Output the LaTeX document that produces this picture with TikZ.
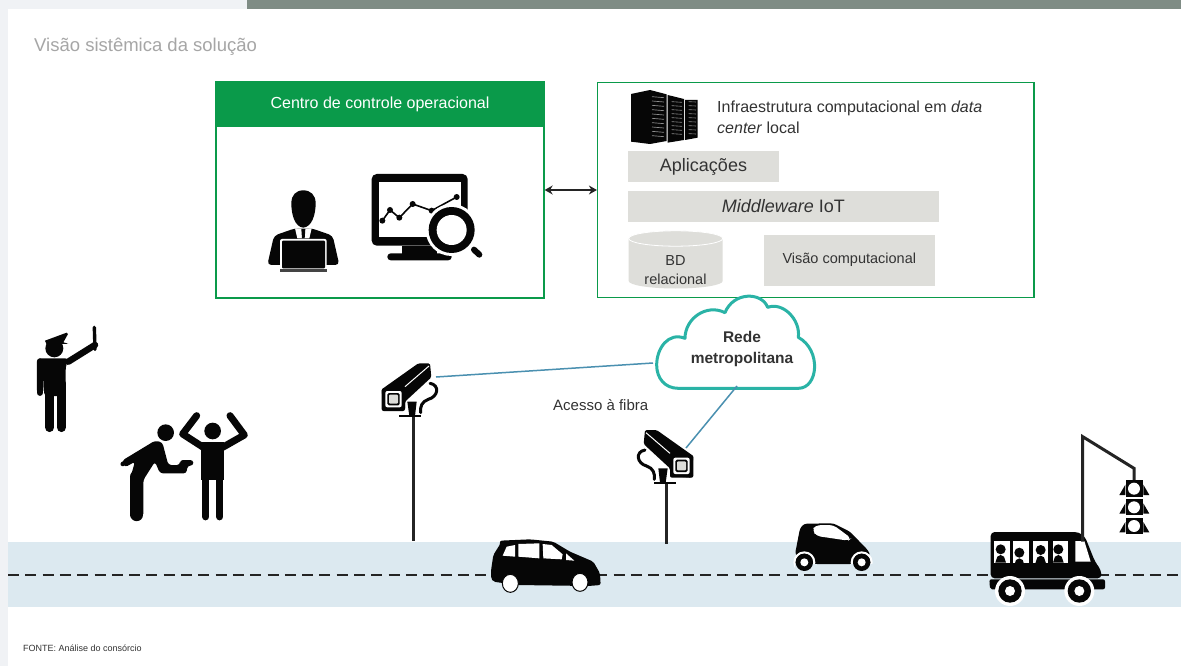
\documentclass[tikz,border=0pt]{standalone}
\usepackage{fontspec}
\setmainfont{Liberation Sans}
\usetikzlibrary{arrows.meta}
\definecolor{pagegrey}{HTML}{F0F2F5}
\definecolor{topbar}{HTML}{7F8C85}
\definecolor{boxgreen}{HTML}{0A9A4A}
\definecolor{panelgrey}{HTML}{DEDEDA}
\definecolor{roadblue}{HTML}{DCE9F0}
\definecolor{cloudteal}{HTML}{2AB3A6}
\definecolor{linkblue}{HTML}{4A90B0}
\definecolor{txt}{HTML}{333333}
\definecolor{icon}{HTML}{060606}
\tikzset{
  zoomed/.style 2 args={shift={(#1,#2)},x=0.33333pt,y=-0.33333pt},
  panel/.style={fill=panelgrey,draw=none,inner sep=0pt,text=txt,align=center},
  greenbox/.style={draw=boxgreen,line width=1.3pt,fill=white,inner sep=0pt},
  label/.style={inner sep=0pt,text=txt,align=left},
  ic/.style={fill=icon,draw=none},
  wh/.style={fill=white,draw=none},
  link/.style={draw=linkblue,line width=1.5pt},
  pole/.style={draw=txt!70!black,line width=3pt},
  limb/.style={draw=icon,line cap=round,line join=round},
  cam/.pic={
    \path[ic,rounded corners=1.5pt] (35,298)--(145,220)--(180,220)--(184,262)--(105,335)--(105,358)--(40,363)--cycle;
    \path[ic,rounded corners=2pt] (35,295) rectangle (105,363);
    \draw[white,line width=1pt] (105,290)--(177,228);
    \path[wh,rounded corners=2pt] (46,303) rectangle (95,352);
    \path[ic,rounded corners=1.5pt] (52,309) rectangle (89,346);
    \path[fill=panelgrey,rounded corners=1pt] (57,314) rectangle (84,341);
    \draw[limb,line width=3pt] (180,280) .. controls (210,285) and (205,320) .. (175,328) .. controls (155,335) and (150,350) .. (152,368);
    \path[ic] (112,335)--(140,335)--(135,378)--(118,378)--cycle;
    \draw[icon,line width=2pt] (88,378)--(152,378);
  },
}
\begin{document}
\begin{tikzpicture}[x=1pt,y=-1pt]
\useasboundingbox (0,0) rectangle (1181,666);
\fill[white] (0,0) rectangle (1181,666);
\fill[pagegrey] (0,0) rectangle (8,666);
\fill[pagegrey] (0,0) rectangle (247,9);
\fill[topbar] (247,0) rectangle (1181,9);
\node[label,anchor=base west,text=black!35,font=\fontsize{18.5}{22}\selectfont] (title) at (34,52) {Visão sistêmica da solução};

% road
\fill[roadblue] (8,542) rectangle (1181,607);
\coordinate (roadL) at (8,575);
\coordinate (roadR) at (1181,575);
\draw[txt!70!black,line width=2.2pt,dash pattern=on 11pt off 6.3pt] (roadL)--(roadR);

% control centre
\node[greenbox,minimum width=328pt,minimum height=216pt] (ccc) at (380,190) {};
\node[fill=boxgreen,minimum width=328.6pt,minimum height=45pt,inner sep=0pt] (ccchead) at (380,104.8) {};
\node[inner sep=0pt,text=white,font=\fontsize{16}{19}\selectfont,anchor=base] (ccctext) at (380,109) {Centro de controle operacional};

% infrastructure box
\node[greenbox,minimum width=436.5pt,minimum height=215.5pt] (infra) at (815.8,190) {};
\draw[{Stealth[length=8pt,width=9pt]}-{Stealth[length=8pt,width=9pt]},draw=txt!70!black,line width=2pt] (ccc.east)--(infra.west);

\node[label,anchor=base west,font=\fontsize{16}{21}\selectfont] (infra1) at (717,113) {Infraestrutura computacional em \textit{data}};
\node[label,anchor=base west,font=\fontsize{16}{21}\selectfont] (infra2) at (717,134) {\textit{center} local};
\node[panel,minimum width=150.5pt,minimum height=31pt,font=\fontsize{18}{21}\selectfont] (apps) at (703.5,166.5) {Aplicações};
\node[panel,minimum width=311pt,minimum height=31pt,font=\fontsize{18}{21}\selectfont] (mid) at (783.3,206.3) {\textit{Middleware} IoT};
\node[panel,minimum width=171.5pt,minimum height=51pt,font=\fontsize{14.5}{17}\selectfont] (vis) at (849.3,260) {Visão computacional};
% database
\path[fill=panelgrey] (628.7,238.5) -- (628.7,281) arc[start angle=180,end angle=360,x radius=47pt,y radius=7.5pt] -- (722.7,238.5) -- cycle;
\path[fill=panelgrey,draw=white,line width=.8pt] (675.7,238.5) ellipse[x radius=47pt,y radius=7.7pt];
\node[inner sep=0pt,text=txt,align=center,font=\fontsize{14.5}{19}\selectfont] (bd) at (675.5,270.3) {BD\\relacional};

% server icon
\begin{scope}[zoomed={590}{75}]
  \path[ic] (123,57)--(180,45)--(230,58)--(230,198)--(180,207)--(123,200)--cycle;
  \path[ic] (233,60)--(282,72)--(282,195)--(233,203)--cycle;
  \path[ic] (285,75)--(323,75)--(323,188)--(285,195)--cycle;
  \foreach \y in {65,78,...,190}{
    \draw[black!45,line width=.7pt] (186,\y)--(222,\y+3);
  }
  \foreach \y in {80,92,...,185}{
    \draw[black!45,line width=.6pt] (245,\y)--(276,\y+2);
    \draw[black!45,line width=.6pt] (296,\y)--(318,\y+1);
  }
\end{scope}

% operator icon
\begin{scope}[zoomed={210}{75}]
  \path[ic] (244,385) .. controls (244,360) and (258,346) .. (280,346) .. controls (302,346) and (317,360) .. (317,385) .. controls (317,420) and (305,456) .. (280,458) .. controls (255,456) and (244,420) .. (244,385) -- cycle;
  \path[ic,rounded corners=4pt] (172,570)--(192,482)--(255,460)--(305,460)--(368,482)--(388,570)--cycle;
  \path[wh] (255,460)--(305,460)--(298,490)--(262,490)--cycle;
  \path[ic] (274,462)--(286,462)--(284,490)--(276,490)--cycle;
  \path[wh,rounded corners=2pt] (210,492) rectangle (350,590);
  \path[ic,rounded corners=1pt] (216,497) rectangle (345,580);
  \path[fill=icon!75!white] (210,583) rectangle (350,590);
\end{scope}

% monitor icon
\begin{scope}[zoomed={210}{75}]
  \path[ic,rounded corners=5pt] (485,297) rectangle (773,512);
  \path[wh] (507,320) rectangle (752,487);
  \path[ic] (575,512) rectangle (680,537);
  \path[ic,rounded corners=3.4pt] (532,535) rectangle (725,556);
  \draw[icon,line width=1.6pt] (517,437)--(540,405)--(568,428)--(608,387)--(665,407)--(740,366);
  \foreach \p in {(517,437),(540,405),(568,428),(608,387),(665,407),(740,366)}
    \fill[icon] \p circle[radius=9];
  \fill[white] (725,465) circle[radius=78];
  \draw[white,line width=8pt,line cap=round] (790,522)--(808,538);
  \draw[icon,line width=6pt,line cap=round] (792,524)--(808,539);
  \fill[icon] (725,465) circle[radius=69];
  \fill[white] (725,465) circle[radius=45];
\end{scope}

% police officer
\begin{scope}[zoomed={0}{310}]
  \fill[icon] (163,115) circle[radius=27];
  \path[ic] (135,92)--(200,68)--(204,72)--(190,97)--(205,101)--(140,104)--cycle;
  \path[ic,rounded corners=3pt] (111,145)--(205,145)--(197,172)--(197,258)--(133,258)--(130,180)--(130,250)--(111,250)--cycle;
  \draw[limb,line width=6.5pt] (205,155)--(285,105);
  \draw[limb,line width=3.4pt] (283,52)--(285,118);
  \draw[limb,line width=6.5pt] (120,155)--(120,248);
  \draw[limb,line width=9.5pt] (149,220)--(149,352);
  \draw[limb,line width=9.5pt] (184,220)--(184,352);
\end{scope}

% bending person
\begin{scope}[zoomed={0}{310}]
  \fill[icon] (497,368) circle[radius=25];
  \path[ic,rounded corners=3pt] (366,452)--(465,392)--(487,397)--(505,465)--(540,465)--(540,450)--(580,450)--(580,467)--(562,467)--(560,490)--(480,490)--(465,455)--(430,510)--(430,620)--(392,620)--(392,500)--(405,455)--(375,472)--cycle;
  \draw[limb,line width=13pt] (411,500)--(411,614);
  \draw[limb,line width=4.5pt] (368,462)--(410,440);
\end{scope}

% hands-up person
\begin{scope}[zoomed={0}{310}]
  \fill[icon] (638,363) circle[radius=25];
  \draw[limb,line width=7pt] (590,317)--(548,372)--(610,412);
  \draw[limb,line width=7pt] (690,317)--(733,375)--(668,412);
  \path[ic] (603,395)--(673,395)--(673,510)--(603,510)--cycle;
  \draw[limb,line width=7.5pt] (617,500)--(617,620);
  \draw[limb,line width=7.5pt] (659,500)--(659,620);
\end{scope}

% cameras and poles
\coordinate (pole1top) at (413.3,415);
\coordinate (pole1low) at (413.3,541);
\coordinate (pole2top) at (666,483);
\coordinate (pole2low) at (666,544);
\draw[pole] (pole1top)--(pole1low);
\draw[pole] (pole2top)--(pole2low);
\begin{scope}[zoomed={370}{290}]
  \pic {cam};
\end{scope}
\begin{scope}[shift={(370,356.7)},x=-0.33333pt,y=-0.33333pt,xshift=335pt]
  \pic {cam};
\end{scope}

% cloud
\begin{scope}[zoomed={370}{290}]
  \path[draw=cloudteal,line width=3pt,fill=white,line join=round]
    (925,295) -- (1285,295)
    .. controls (1345,295) and (1355,180) .. (1285,142)
    .. controls (1292,90) and (1240,35) .. (1193,52)
    .. controls (1175,5) and (1090,5) .. (1065,68)
    .. controls (1010,40) and (945,85) .. (945,145)
    .. controls (895,125) and (860,175) .. (860,225)
    .. controls (860,265) and (885,295) .. (925,295) -- cycle;
\end{scope}
\coordinate (cloudW) at (653,363);
\coordinate (cloudS) at (737,386);
\coordinate (cam1) at (436,377);
\coordinate (cam2) at (686,448);
\draw[link] (cam1)--(cloudW);
\draw[link] (cam2)--(cloudS);
\node[inner sep=0pt,text=txt,align=center,font=\fontsize{15.5}{20.5}\selectfont\bfseries] (rede) at (742,349) {Rede\\metropolitana};
\node[label,anchor=base west,font=\fontsize{15}{18}\selectfont] (fibra) at (553,410) {Acesso à fibra};

% car 1
\begin{scope}[zoomed={480}{510}]
  \path[ic,rounded corners=2pt] (33,182)--(40,135)--(62,100)--(60,92)--(150,88)--(220,95)--(270,125)--(340,155)--(360,190)--(362,225)--(325,228)--(110,225)--(40,215)--(33,205)--cycle;
  \path[wh] (68,137)--(80,110)--(105,105)--(105,140)--cycle;
  \path[wh] (115,102)--(178,100)--(178,145)--(115,140)--cycle;
  \path[wh] (188,102)--(215,105)--(248,133)--(245,148)--(190,145)--cycle;
  \path[wh] (258,130)--(283,152)--(258,150)--cycle;
  \foreach \c in {(91,220),(300,217)}{
    \path[fill=white,draw=icon,line width=1pt] \c ellipse[x radius=24,y radius=27];
  }
\end{scope}

% car 2
\begin{scope}[zoomed={480}{510}]
  \path[ic,rounded corners=3pt] (945,133)--(960,55)--(972,41)--(1060,40)--(1110,65)--(1165,122)--(1171,136)--(1150,162)--(975,162)--cycle;
  \path[wh,rounded corners=4pt] (997,62)--(1005,46)--(1060,45)--(1114,85)--(1105,92)--(1010,78)--cycle;
  \foreach \c in {(973,157),(1145,157)}{
    \fill[white] \c circle[radius=33];
    \fill[icon] \c circle[radius=26];
    \fill[white] \c circle[radius=12];
  }
  \fill[roadblue] (945,163) rectangle (1010,190);
  \fill[roadblue] (1110,163) rectangle (1180,190);
  \foreach \c in {(973,157),(1145,157)}{
    \fill[icon] \c circle[radius=26];
    \fill[white] \c circle[radius=12];
  }
\end{scope}

% bus
\begin{scope}[zoomed={970}{430}]
  \path[ic,rounded corners=4pt] (62,445)--(62,306)--(325,306)--(345,320)--(375,395)--(393,420)--(395,445)--cycle;
  \path[ic,rounded corners=2pt] (58,448)--(405,448)--(405,478)--(60,478)--cycle;
  \foreach \x/\hy in {72/358,130/368,188/360,248/358}{
    \path[wh] (\x,333) rectangle ++(47,65);
  }
  \path[wh] (316,333)--(343,333)--(362,395)--(316,395)--cycle;
  \foreach \x/\y in {92/358,148/368,212/360,265/358}{
    \fill[icon] (\x,\y) circle[radius=15];
    \path[ic] (\x-16,\y+40)--(\x-10,\y+22)--(\x,\y+17)--(\x+10,\y+22)--(\x+16,\y+40)--cycle;
  }
  \foreach \c in {(120,483),(328,483)}{
    \fill[white] \c circle[radius=45];
    \fill[icon] \c circle[radius=35];
    \fill[white] \c circle[radius=15];
  }
\end{scope}

% traffic light
\begin{scope}[zoomed={970}{430}]
  \coordinate (tlbase) at (338,335);
  \coordinate (tltop) at (338,20);
  \coordinate (tlarm) at (492,115);
  \coordinate (tllamp) at (492,150);
  \draw[txt!70!black,line width=3pt,line join=miter] (tlbase)--(tltop)--(tlarm)--(tllamp);
  \foreach \y in {176,232,288}{
    \path[ic] (468,\y-25) rectangle (518,\y+24);
    \fill[white] (492,\y) circle[radius=18];
    \path[ic] (466,\y-12)--(466,\y+19)--(448,\y+19)--cycle;
    \path[ic] (520,\y-12)--(520,\y+19)--(538,\y+19)--cycle;
  }
\end{scope}

\node[inner sep=0pt,anchor=base west,text=txt,font=\fontsize{9}{11}\selectfont] (fonte) at (23,651) {FONTE: Análise do consórcio};
\end{tikzpicture}
\end{document}
